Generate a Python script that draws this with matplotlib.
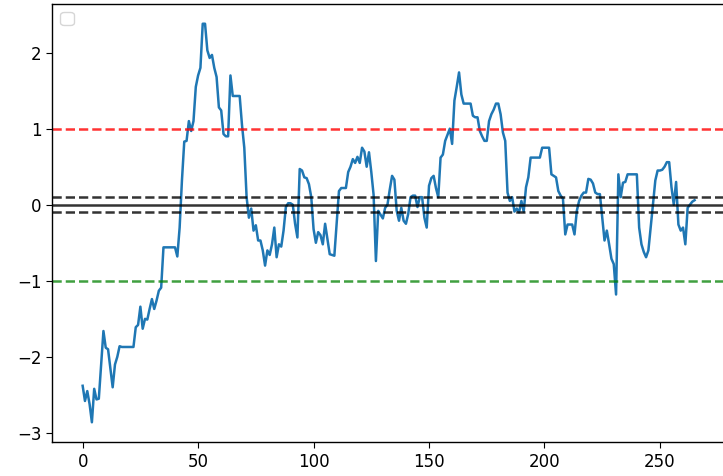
import matplotlib
matplotlib.use("Agg")
import matplotlib.pyplot as plt

values = [
    -2.38, -2.58, -2.45, -2.62, -2.86, -2.42, -2.56, -2.55, -2.10, -1.66,
    -1.88, -1.90, -2.15, -2.40, -2.10, -2.00, -1.86, -1.87, -1.87, -1.87,
    -1.87, -1.87, -1.87, -1.61, -1.58, -1.34, -1.63, -1.50, -1.51, -1.37,
    -1.24, -1.37, -1.26, -1.13, -1.09, -0.56, -0.56, -0.56, -0.56, -0.56,
    -0.56, -0.68, -0.30, 0.32, 0.83, 0.84, 1.10, 0.97, 1.10, 1.55,
    1.70, 1.80, 2.38, 2.38, 2.03, 1.93, 1.97, 1.80, 1.68, 1.28,
    1.24, 0.93, 0.90, 0.90, 1.70, 1.43, 1.43, 1.43, 1.43, 1.05,
    0.75, 0.10, -0.17, -0.05, -0.34, -0.27, -0.47, -0.47, -0.60, -0.80,
    -0.60, -0.66, -0.52, -0.30, -0.69, -0.52, -0.55, -0.34, -0.03, 0.02,
    0.02, 0.00, -0.25, -0.43, 0.47, 0.45, 0.36, 0.35, 0.27, 0.10,
    -0.32, -0.50, -0.36, -0.40, -0.52, -0.25, -0.45, -0.65, -0.66, -0.67,
    -0.25, 0.18, 0.22, 0.22, 0.22, 0.43, 0.50, 0.60, 0.55, 0.63,
    0.55, 0.75, 0.70, 0.50, 0.69, 0.43, 0.13, -0.74, -0.08, -0.13,
    -0.18, -0.04, 0.00, 0.20, 0.38, 0.33, -0.08, -0.21, -0.04, -0.21,
    -0.25, -0.12, 0.10, 0.12, 0.12, -0.03, 0.10, 0.10, -0.17, -0.30,
    0.25, 0.35, 0.38, 0.22, 0.10, 0.62, 0.66, 0.84, 0.92, 1.00,
    0.80, 1.37, 1.55, 1.74, 1.45, 1.33, 1.33, 1.33, 1.33, 1.17,
    1.15, 1.15, 0.97, 0.90, 0.84, 0.84, 1.10, 1.19, 1.25, 1.33,
    1.33, 1.19, 0.95, 0.84, 0.16, 0.05, 0.10, -0.09, -0.05, -0.10,
    0.05, -0.09, 0.23, 0.36, 0.62, 0.62, 0.62, 0.62, 0.62, 0.75,
    0.75, 0.75, 0.75, 0.40, 0.38, 0.36, 0.18, 0.12, 0.08, -0.39,
    -0.26, -0.26, -0.26, -0.39, -0.08, 0.05, 0.12, 0.16, 0.16, 0.34,
    0.33, 0.28, 0.16, 0.14, 0.14, -0.17, -0.47, -0.34, -0.52, -0.71,
    -0.78, -1.18, 0.40, 0.10, 0.29, 0.30, 0.40, 0.40, 0.40, 0.40,
    0.40, -0.30, -0.52, -0.62, -0.69, -0.60, -0.30, 0.01, 0.32, 0.45,
    0.45, 0.46, 0.50, 0.56, 0.56, 0.23, 0.00, 0.30, -0.26, -0.34,
    -0.30, -0.52, -0.04, 0.00, 0.04, 0.06,
]

upper_level = 1.0
lower_level = -1.0
zero_level = 0.0
band_levels = [0.1, -0.1]

plt.rcParams.update({
    "font.size": 12,
    "xtick.major.size": 4.2,
    "ytick.major.size": 4.2,
    "axes.linewidth": 1.0,
})

fig = plt.figure(figsize=(7.23, 4.76), dpi=100)
ax = fig.add_axes([0.072, 0.071, 0.931, 0.921])

ax.plot(range(len(values)), values, color="#1f77b4", linewidth=1.8)
ax.axhline(upper_level, color="red", linestyle="--", linewidth=1.8, alpha=0.8)
ax.axhline(lower_level, color="green", linestyle="--", linewidth=1.8, alpha=0.75)
ax.axhline(zero_level, color="black", linewidth=1.8, alpha=0.8)
for lvl in band_levels:
    ax.axhline(lvl, color="black", linestyle="--", linewidth=1.8, alpha=0.8)

ax.legend(handles=[], loc="upper left")

fig.savefig("out.png", dpi=100)
